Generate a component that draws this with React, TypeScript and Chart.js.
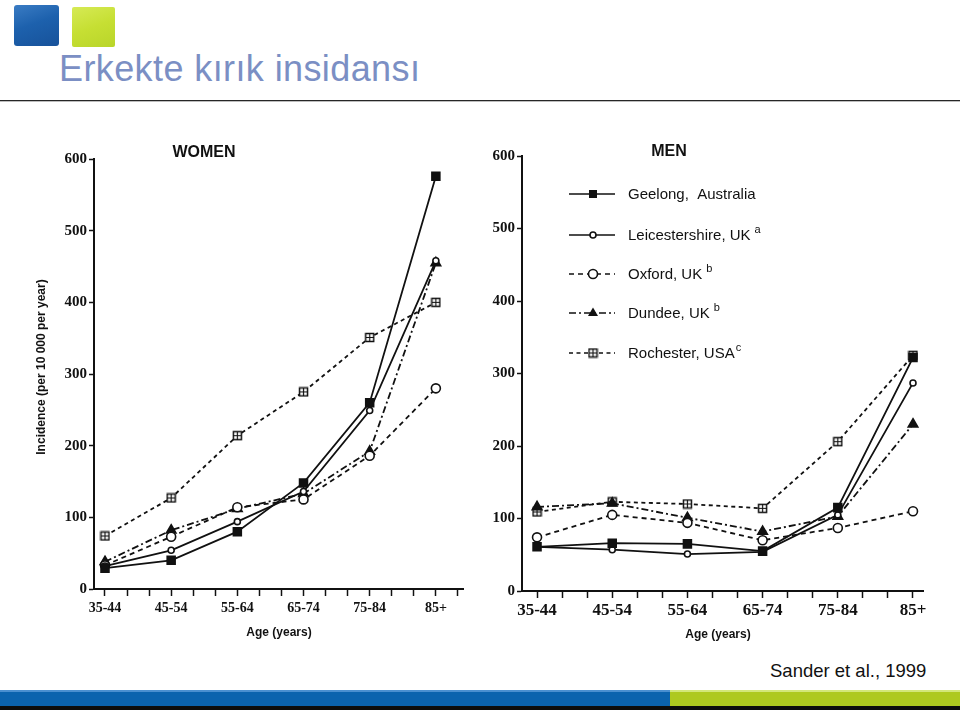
import React, { useEffect, useRef } from 'react';
import { Chart, registerables } from 'chart.js';

Chart.register(...registerables);

// ---------- data ----------
const categories = ['35-44', '45-54', '55-64', '65-74', '75-84', '85+'];
const seriesNames = ['Geelong,  Australia', 'Leicestershire, UK', 'Oxford, UK', 'Dundee, UK', 'Rochester, USA'];
const seriesSup = ['', 'a', 'b', 'b', 'c'];

const womenGeelong = [29, 40, 80, 148, 260, 576];
const womenLeicester = [32, 54, 94, 136, 249, 458];
const womenOxford = [33, 73, 114, 125, 186, 280];
const womenDundee = [38, 82, 112, 133, 192, 455];
const womenRochester = [74, 127, 214, 275, 351, 400];

const menGeelong = [61, 66, 65, 55, 115, 322];
const menLeicester = [61, 57, 51, 54, 105, 287];
const menOxford = [74, 105, 94, 70, 87, 110];
const menDundee = [116, 121, 101, 82, 103, 230];
const menRochester = [109, 123, 120, 114, 206, 325];

const yMin = 0;
const yMax = 600;
const yStep = 100;

// ---------- styling ----------
const SERIF = "'Liberation Serif', 'Times New Roman', serif";
const SANS = "'Liberation Sans', Arial, Helvetica, sans-serif";
const INK = '#111111';

function crossSquare(): HTMLCanvasElement {
  const c = document.createElement('canvas');
  c.width = 11;
  c.height = 11;
  const g = c.getContext('2d')!;
  g.fillStyle = '#fff';
  g.fillRect(1, 1, 9, 9);
  g.strokeStyle = INK;
  g.lineWidth = 1.5;
  g.strokeRect(1.5, 1.5, 8, 8);
  g.lineWidth = 1.2;
  g.beginPath();
  g.moveTo(5.5, 1.5);
  g.lineTo(5.5, 9.5);
  g.moveTo(1.5, 5.5);
  g.lineTo(9.5, 5.5);
  g.stroke();
  return c;
}

type Style = { dash: number[]; point: any; radius: number; fill: string };

function seriesStyles(cross: HTMLCanvasElement): Style[] {
  return [
    { dash: [], point: 'rect', radius: 5.6, fill: INK },
    { dash: [], point: 'circle', radius: 3, fill: '#fff' },
    { dash: [5, 4], point: 'circle', radius: 4.5, fill: '#fff' },
    { dash: [7, 3, 2, 3], point: 'triangle', radius: 5.5, fill: INK },
    { dash: [4, 3.5], point: cross, radius: 5, fill: '#fff' },
  ];
}

function drawMarker(ctx: CanvasRenderingContext2D, k: number, x: number, y: number, cross: HTMLCanvasElement) {
  ctx.save();
  ctx.setLineDash([]);
  ctx.fillStyle = INK;
  ctx.strokeStyle = INK;
  ctx.lineWidth = 1.6;
  if (k === 0) {
    ctx.fillRect(x - 4, y - 4, 8, 8);
  } else if (k === 1 || k === 2) {
    ctx.beginPath();
    ctx.arc(x, y, k === 1 ? 3 : 4.5, 0, Math.PI * 2);
    ctx.fillStyle = '#fff';
    ctx.fill();
    ctx.stroke();
  } else if (k === 3) {
    ctx.beginPath();
    ctx.moveTo(x, y - 5.5);
    ctx.lineTo(x + 5, y + 3);
    ctx.lineTo(x - 5, y + 3);
    ctx.closePath();
    ctx.fill();
  } else {
    ctx.drawImage(cross, x - 5.5, y - 5.5);
  }
  ctx.restore();
}

type Cfg = {
  values: number[][];
  xMin: number;
  xMax: number;
  tickCount: number;
  padTop: number;
  padRight: number;
  yWidth: number;
  xHeight: number;
  xFont: number;
  xPad: number;
  title: string;
  titleX: number;
  titleY: number;
  xTitleX: number;
  xTitleY: number;
  yTitle?: { x: number; y: number };
  legend?: { lx0: number; lx1: number; mx: number; tx: number; ys: number[] };
};

function buildConfig(cfg: Cfg, cross: HTMLCanvasElement): any {
  const st = seriesStyles(cross);
  const tickVals: number[] = [];
  for (let i = 0; i < cfg.tickCount; i++) tickVals.push(i / 3);

  const textPlugin = {
    id: 'texts' + cfg.title,
    afterDraw(chart: any) {
      const ctx: CanvasRenderingContext2D = chart.ctx;
      ctx.save();
      ctx.fillStyle = INK;
      ctx.textAlign = 'center';
      ctx.textBaseline = 'middle';
      ctx.font = `bold 16px ${SANS}`;
      ctx.fillText(cfg.title, cfg.titleX, cfg.titleY);
      ctx.font = `bold 12px ${SANS}`;
      ctx.fillText('Age (years)', cfg.xTitleX, cfg.xTitleY);
      if (cfg.yTitle) {
        ctx.save();
        ctx.translate(cfg.yTitle.x, cfg.yTitle.y);
        ctx.rotate(-Math.PI / 2);
        ctx.fillText('Incidence (per 10 000 per year)', 0, 0);
        ctx.restore();
      }
      if (cfg.legend) {
        const L = cfg.legend;
        seriesNames.forEach((name, k) => {
          const y = L.ys[k];
          ctx.save();
          ctx.strokeStyle = INK;
          ctx.lineWidth = 1.6;
          ctx.setLineDash(st[k].dash);
          ctx.beginPath();
          ctx.moveTo(L.lx0, y);
          ctx.lineTo(L.lx1, y);
          ctx.stroke();
          ctx.restore();
          drawMarker(ctx, k, L.mx, y, cross);
          ctx.font = `15px ${SANS}`;
          ctx.textAlign = 'left';
          ctx.textBaseline = 'middle';
          ctx.fillStyle = INK;
          ctx.fillText(name, L.tx, y + 1);
          const w = ctx.measureText(name).width;
          if (seriesSup[k]) {
            ctx.font = `11px ${SANS}`;
            ctx.fillText(seriesSup[k], L.tx + w + (seriesSup[k] === 'c' ? 1 : 4), y - 5);
          }
        });
      }
      ctx.restore();
    },
  };

  return {
    type: 'line',
    data: {
      datasets: cfg.values.map((vals, k) => ({
        label: seriesNames[k],
        data: vals.map((v, i) => ({ x: i, y: v })),
        borderColor: INK,
        borderWidth: 1.8,
        borderDash: st[k].dash,
        pointStyle: st[k].point,
        pointRadius: st[k].radius,
        pointBackgroundColor: st[k].fill,
        pointBorderColor: INK,
        pointBorderWidth: 1.6,
        tension: 0,
        fill: false,
        clip: false,
      })),
    },
    options: {
      responsive: false,
      animation: false,
      events: [],
      layout: { padding: { top: cfg.padTop, right: cfg.padRight, left: 0, bottom: 0 } },
      plugins: {
        legend: { display: false },
        tooltip: { enabled: false },
        title: { display: false },
      },
      scales: {
        x: {
          type: 'linear',
          min: cfg.xMin,
          max: cfg.xMax,
          bounds: 'data',
          afterBuildTicks: (s: any) => {
            s.ticks = tickVals.map((v) => ({ value: v }));
          },
          afterFit: (s: any) => {
            s.height = cfg.xHeight;
          },
          ticks: {
            autoSkip: false,
            maxRotation: 0,
            minRotation: 0,
            padding: cfg.xPad,
            color: INK,
            font: { family: SERIF, weight: 'bold', size: cfg.xFont },
            callback: (v: any) => {
              const r = Math.round(Number(v));
              return Math.abs(Number(v) - r) < 1e-6 ? categories[r] ?? '' : '';
            },
          },
          grid: { drawOnChartArea: false, drawTicks: true, tickLength: 7, tickColor: INK, tickWidth: 1.5 },
          border: { color: INK, width: 2 },
        },
        y: {
          min: yMin,
          max: yMax,
          afterFit: (s: any) => {
            s.width = cfg.yWidth;
          },
          ticks: {
            stepSize: yStep,
            padding: 2,
            color: INK,
            font: { family: SERIF, weight: 'bold', size: 15 },
          },
          grid: { drawOnChartArea: false, drawTicks: true, tickLength: 5, tickColor: INK, tickWidth: 1.5 },
          border: { color: INK, width: 2 },
        },
      },
    },
    plugins: [textPlugin],
  };
}

export default function App() {
  const wRef = useRef<HTMLCanvasElement>(null);
  const mRef = useRef<HTMLCanvasElement>(null);

  useEffect(() => {
    const cross = crossSquare();
    const women = new Chart(
      wRef.current!,
      buildConfig(
        {
          values: [womenGeelong, womenLeicester, womenOxford, womenDundee, womenRochester],
          xMin: -0.166,
          xMax: 5.41,
          tickCount: 17,
          padTop: 29,
          padRight: 12,
          yWidth: 74,
          xHeight: 61,
          xFont: 14,
          xPad: 4,
          title: 'WOMEN',
          titleX: 184,
          titleY: 23,
          xTitleX: 259,
          xTitleY: 503,
          yTitle: { x: 22, y: 237 },
        },
        cross
      )
    );
    const men = new Chart(
      mRef.current!,
      buildConfig(
        {
          values: [menGeelong, menLeicester, menOxford, menDundee, menRochester],
          xMin: -0.2,
          xMax: 5.133,
          tickCount: 16,
          padTop: 26,
          padRight: 17,
          yWidth: 42,
          xHeight: 59,
          xFont: 17,
          xPad: 2,
          title: 'MEN',
          titleX: 189,
          titleY: 22,
          xTitleX: 238,
          xTitleY: 505,
          legend: { lx0: 89, lx1: 135, mx: 113, tx: 148, ys: [64, 105, 144, 183, 223] },
        },
        cross
      )
    );
    return () => {
      women.destroy();
      men.destroy();
    };
  }, []);

  return (
    <div
      style={{
        position: 'fixed',
        left: 0,
        top: 0,
        width: 960,
        height: 710,
        background: '#fff',
        overflow: 'hidden',
        fontFamily: SANS,
      }}
    >
      {/* logo squares */}
      <div
        style={{
          position: 'absolute',
          left: 14,
          top: 5,
          width: 45,
          height: 41,
          background: 'linear-gradient(160deg, #3a7cc4 0%, #1d61ad 45%, #17529a 100%)',
          borderRadius: 3,
        }}
      />
      <div
        style={{
          position: 'absolute',
          left: 72,
          top: 7,
          width: 43,
          height: 40,
          background: 'linear-gradient(160deg, #d6ea55 0%, #c6df33 50%, #b9d52a 100%)',
          borderRadius: 2,
        }}
      />
      {/* title */}
      <div
        style={{
          position: 'absolute',
          left: 59,
          top: 51,
          fontSize: 36,
          lineHeight: '36px',
          letterSpacing: '0.4px',
          color: '#7b8fc4',
          whiteSpace: 'nowrap',
        }}
      >
        Erkekte kırık insidansı
      </div>
      <div style={{ position: 'absolute', left: 0, top: 100, width: 960, height: 1, background: '#262626' }} />
      <div style={{ position: 'absolute', left: 0, top: 101, width: 960, height: 1, background: '#bdbdbd' }} />

      {/* charts */}
      <canvas
        ref={wRef}
        width={455}
        height={520}
        style={{ position: 'absolute', left: 20, top: 130, width: 455, height: 520, display: 'block' }}
      />
      <canvas
        ref={mRef}
        width={460}
        height={520}
        style={{ position: 'absolute', left: 480, top: 130, width: 460, height: 520, display: 'block' }}
      />

      {/* citation */}
      <div
        style={{
          position: 'absolute',
          left: 770,
          top: 662,
          fontSize: 18.5,
          lineHeight: '18px',
          color: '#111',
          whiteSpace: 'nowrap',
        }}
      >
        Sander et al., 1999
      </div>

      {/* bottom bars */}
      <div style={{ position: 'absolute', left: 0, top: 690, width: 670, height: 2, background: '#4a8fd0' }} />
      <div style={{ position: 'absolute', left: 670, top: 690, width: 290, height: 2, background: '#d3e77a' }} />
      <div style={{ position: 'absolute', left: 0, top: 692, width: 670, height: 14, background: '#0b63ae' }} />
      <div style={{ position: 'absolute', left: 670, top: 692, width: 290, height: 14, background: '#aec920' }} />
      <div style={{ position: 'absolute', left: 0, top: 706, width: 960, height: 4, background: '#0d0d0d' }} />
    </div>
  );
}
